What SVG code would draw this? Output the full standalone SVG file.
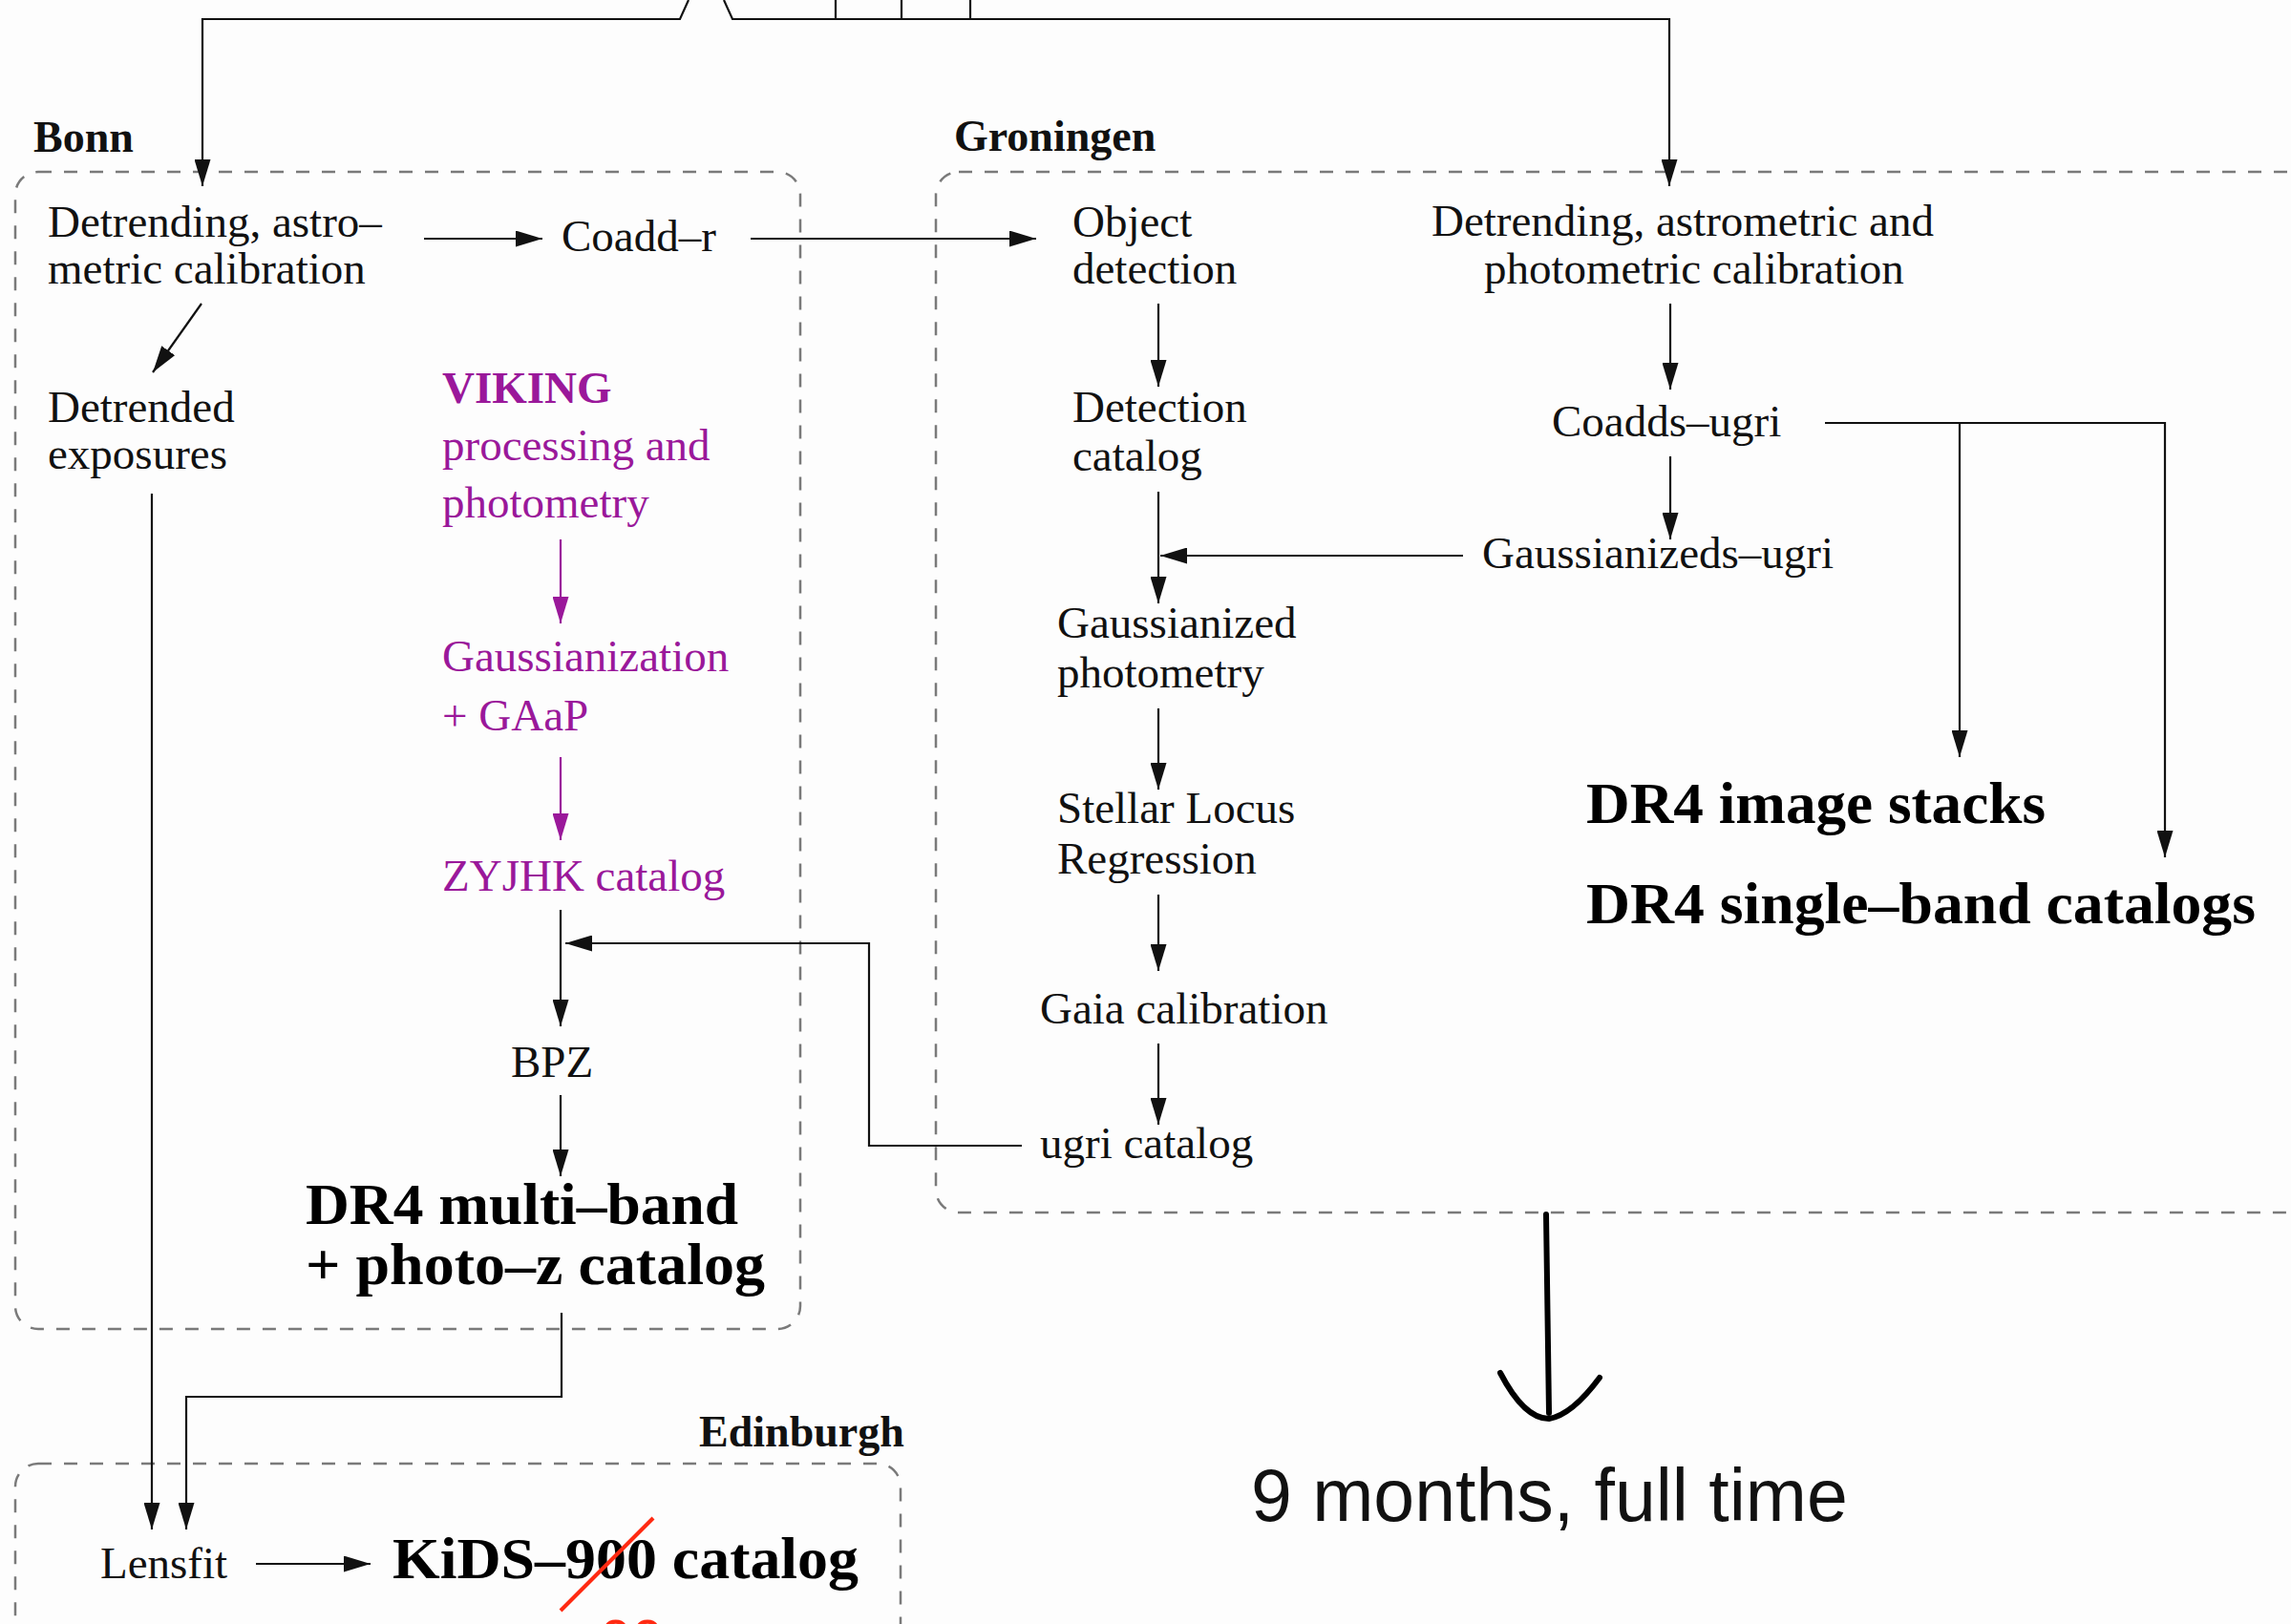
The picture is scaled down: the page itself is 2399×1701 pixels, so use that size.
<svg xmlns="http://www.w3.org/2000/svg" width="2399" height="1701" viewBox="0 0 2399 1701">
<style>
  .t { font-family: "Liberation Serif", "Times New Roman", serif; font-size: 47px; fill: #111; }
  .lbl { font-family: "Liberation Serif", "Times New Roman", serif; font-size: 46px; font-weight: bold; fill: #111; }
  .big { font-family: "Liberation Serif", "Times New Roman", serif; font-size: 62px; font-weight: bold; fill: #000; }
  .p { fill: #9a189a; }
  .box { fill: none; stroke: #7a7a7a; stroke-width: 2.5; stroke-dasharray: 14 13; }
  .c { fill: none; stroke: #111; stroke-width: 2.2; }
  .cp { fill: none; stroke: #9a189a; stroke-width: 2.2; }
  .a { marker-end: url(#ah); }
  .ap { marker-end: url(#ahp); }
</style>
<defs>
  <marker id="ah" markerUnits="userSpaceOnUse" viewBox="0 0 28 17" markerWidth="28" markerHeight="17" refX="28" refY="8.5" orient="auto">
    <path d="M0,0 L28,8.5 L0,17 z" fill="#111"/>
  </marker>
  <marker id="ahp" markerUnits="userSpaceOnUse" viewBox="0 0 28 17" markerWidth="28" markerHeight="17" refX="28" refY="8.5" orient="auto">
    <path d="M0,0 L28,8.5 L0,17 z" fill="#9a189a"/>
  </marker>
</defs>
<rect width="2399" height="1701" fill="#fdfdfd"/>

<g id="bonn">
  <rect class="box" x="16" y="180" width="822" height="1212" rx="24"/>
  <text class="lbl" x="35" y="159">Bonn</text>
</g>
<g id="groningen">
  <rect class="box" x="980" y="180" width="1440" height="1090" rx="24"/>
  <text class="lbl" x="999" y="158">Groningen</text>
</g>
<g id="edinburgh">
  <rect class="box" x="16" y="1533" width="927" height="220" rx="24"/>
  <text class="lbl" x="732" y="1515">Edinburgh</text>
</g>

<g id="n-detrend-bonn"><text class="t" x="50" y="248">Detrending, astro–</text><text class="t" x="50" y="297">metric calibration</text></g>
<g id="n-coadd-r"><text class="t" x="588" y="263">Coadd–r</text></g>
<g id="n-detrended"><text class="t" x="50" y="442">Detrended</text><text class="t" x="50" y="491">exposures</text></g>
<g id="n-viking"><text class="t p" x="463" y="422" font-weight="bold">VIKING</text><text class="t p" x="463" y="482">processing and</text><text class="t p" x="463" y="542">photometry</text></g>
<g id="n-gaussianization"><text class="t p" x="463" y="703">Gaussianization</text><text class="t p" x="463" y="765">+ GAaP</text></g>
<g id="n-zyjhk"><text class="t p" x="463" y="933">ZYJHK catalog</text></g>
<g id="n-bpz"><text class="t" x="535" y="1128">BPZ</text></g>
<g id="n-dr4-multi"><text class="big" x="320" y="1282" textLength="453" lengthAdjust="spacingAndGlyphs">DR4 multi–band</text><text class="big" x="320" y="1345" textLength="481" lengthAdjust="spacingAndGlyphs">+ photo–z catalog</text></g>

<g id="n-object"><text class="t" x="1123" y="248">Object</text><text class="t" x="1123" y="297">detection</text></g>
<g id="n-detcat"><text class="t" x="1123" y="442">Detection</text><text class="t" x="1123" y="493">catalog</text></g>
<g id="n-gaussphot"><text class="t" x="1107" y="668">Gaussianized</text><text class="t" x="1107" y="720">photometry</text></g>
<g id="n-slr"><text class="t" x="1107" y="862">Stellar Locus</text><text class="t" x="1107" y="915">Regression</text></g>
<g id="n-gaia"><text class="t" x="1089" y="1072">Gaia calibration</text></g>
<g id="n-ugri"><text class="t" x="1089" y="1213">ugri catalog</text></g>
<g id="n-detrend-gron"><text class="t" x="1499" y="247">Detrending, astrometric and</text><text class="t" x="1554" y="297">photometric calibration</text></g>
<g id="n-coadds-ugri"><text class="t" x="1625" y="457">Coadds–ugri</text></g>
<g id="n-gaussianizeds"><text class="t" x="1552" y="595">Gaussianizeds–ugri</text></g>
<g id="n-dr4-stacks"><text class="big" x="1661" y="862" textLength="481" lengthAdjust="spacingAndGlyphs">DR4 image stacks</text></g>
<g id="n-dr4-single"><text class="big" x="1661" y="967" textLength="701" lengthAdjust="spacingAndGlyphs">DR4 single–band catalogs</text></g>

<g id="n-lensfit"><text class="t" x="105" y="1653">Lensfit</text></g>
<g id="n-kids"><text class="big" x="411" y="1653" textLength="488" lengthAdjust="spacingAndGlyphs">KiDS–900 catalog</text></g>

<g id="n-time"><text x="1310" y="1593" font-family="'Liberation Sans', Arial, sans-serif" font-size="77" fill="#111">9 months, full time</text></g>

<g id="annotation">
  <line x1="587" y1="1687" x2="684" y2="1590" stroke="#ff2a12" stroke-width="4"/>
  <text x="628" y="1738" font-family="'Liberation Sans', Arial, sans-serif" font-size="60" fill="#ff2a12">00</text>
</g>

<g id="connectors">
  <path class="c" d="M721,0 L712,20 H212 V195" marker-end="url(#ah)"/>
  <path class="c" d="M758,0 L767,20 H1748 V195" marker-end="url(#ah)"/>
  <path class="c" d="M875,0 V20 M944,0 V20 M1016,0 V20"/>
  <path class="c a" d="M444,250 H568"/>
  <path class="c a" d="M786,250 H1085"/>
  <path class="c a" d="M211,318 L160,390"/>
  <path class="c a" d="M159,517 V1602"/>
  <path class="c a" d="M588,1375 V1463 H195 V1602"/>
  <path class="cp ap" d="M587,565 V653"/>
  <path class="cp ap" d="M587,793 V880"/>
  <path class="c a" d="M587,953 V1075"/>
  <path class="c a" d="M1070,1200 H910 V988 H592"/>
  <path class="c a" d="M587,1147 V1232"/>
  <path class="c a" d="M268,1638 H388"/>
  <path class="c a" d="M1213,318 V405"/>
  <path class="c a" d="M1213,515 V632"/>
  <path class="c a" d="M1532,582 H1215"/>
  <path class="c a" d="M1213,742 V827"/>
  <path class="c a" d="M1213,937 V1017"/>
  <path class="c a" d="M1213,1093 V1178"/>
  <path class="c a" d="M1749,318 V408"/>
  <path class="c a" d="M1749,478 V565"/>
  <path class="c a" d="M1911,443 H2267 V898"/>
  <path class="c a" d="M2052,443 V793"/>
  <path d="M1619,1272 Q1621,1380 1622,1480" fill="none" stroke="#000" stroke-width="6" stroke-linecap="round"/>
  <path d="M1571,1438 Q1596,1486 1622,1486 Q1646,1482 1675,1443" fill="none" stroke="#000" stroke-width="6" stroke-linecap="round" stroke-linejoin="round"/>
</g>
</svg>
